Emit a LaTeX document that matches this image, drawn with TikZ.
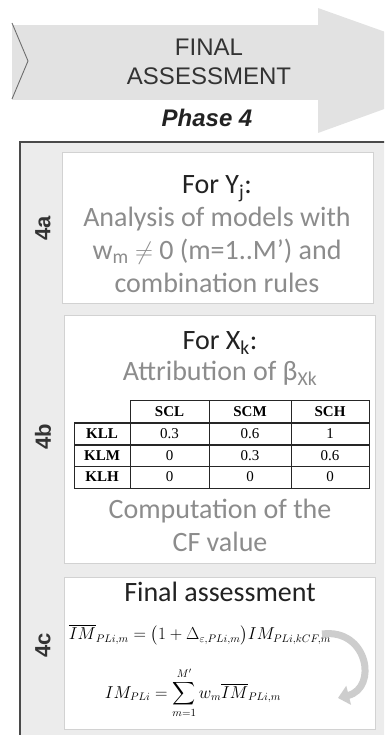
\documentclass[tikz,border=0pt]{standalone}
\usepackage{amsmath,amssymb}
\usepackage{fontspec}
\setmainfont{Carlito}
\newfontfamily\headfont{Liberation Sans}
\newfontfamily\tabfont{Liberation Serif}
\usetikzlibrary{arrows.meta}
\usepackage{xcolor}
\definecolor{bandgrey}{HTML}{E2E2E2}
\definecolor{panelgrey}{HTML}{ECECEC}
\definecolor{rimgrey}{HTML}{4A4A4A}
\definecolor{cardrim}{HTML}{D2D2D2}
\definecolor{inkdark}{HTML}{222222}
\definecolor{inkgrey}{HTML}{8C8C8C}
\definecolor{tagdark}{HTML}{333333}
\definecolor{arrowgrey}{HTML}{CDCDCD}

\begin{document}
\begin{tikzpicture}[
    x=1pt,y=-1pt,
    band/.style={fill=bandgrey,draw=none},
    panel/.style={fill=panelgrey,draw=rimgrey,line width=1.3pt},
    card/.style={fill=white,draw=cardrim,line width=0.9pt},
    tag/.style={font=\headfont\bfseries\fontsize{22}{22}\selectfont,
                text=tagdark,rotate=90},
    head/.style={font=\fontsize{28}{33}\selectfont,text=inkdark,align=center},
    note/.style={font=\fontsize{28}{33}\selectfont,text=inkgrey,align=center},
    cell/.style={font=\tabfont\fontsize{15}{15}\selectfont,inner sep=0pt},
    hcell/.style={font=\tabfont\bfseries\fontsize{15}{15}\selectfont,inner sep=0pt},
    tabline/.style={draw=black!85,line width=0.9pt},
    bendarrow/.style={draw=arrowgrey,line width=7pt,
                      -{Triangle[length=11pt,width=19pt]}}
]
  \clip (0,0) rectangle (384,735);
  \useasboundingbox (0,0) rectangle (384,735);

  % Phase banner: grey band, arrow head and the chevron of the previous step.
  \fill[band] (12,25) rectangle (319,100);
  \fill[band] (318,8) -- (492,70) -- (318,133) -- cycle;
  \draw[draw=rimgrey!80,line width=0.9pt] (12,23) -- (28,61) -- (12,99);
  \node[font=\headfont\fontsize{24}{29}\selectfont,text=tagdark,align=center]
    (title) at (209,62) {FINAL\\ASSESSMENT};
  \node[font=\headfont\bfseries\itshape\fontsize{24}{24}\selectfont,text=inkdark]
    (phase) at (207,118) {Phase 4};

  % Outer panel and the three step cards.
  \draw[panel] (20,142) rectangle (400,750);
  \draw[card] (62,152) rectangle (373,303);
  \draw[card] (64,315) rectangle (375,563);
  \draw[card] (64,577) rectangle (375,729);

  \node[tag] (tag4a) at (43,228) {4a};
  \node[tag] (tag4b) at (43,437) {4b};
  \node[tag] (tag4c) at (43,645) {4c};

  % 4a
  \node[head] (foryj) at (217,189) {For Y\textsubscript{j}:};
  \node[note] (analysis) at (217,250)
    {Analysis of models with\\ w\textsubscript{m} $\neq$ 0 (m=1..M’) and\\ combination rules};

  % 4b: attribution table
  \node[head] (forxk) at (220,343) {For X\textsubscript{k}:};
  \node[note] (attrib) at (220,373) {Attribution of β\textsubscript{Xk}};

  \draw[tabline] (130,400) rectangle (369,423);
  \draw[tabline] (74,423) rectangle (369,488);
  \draw[tabline,line width=1.6pt] (74,423) -- (369,423);
  \draw[tabline,line width=1.6pt] (74,445) -- (369,445);
  \draw[tabline] (74,466) -- (369,466);
  \draw[tabline] (130,400) -- (130,488);
  \draw[tabline] (209,400) -- (209,488);
  \draw[tabline] (291,400) -- (291,488);

  \node[hcell] (hscl) at (169.5,411.5) {SCL};
  \node[hcell] (hscm) at (250,411.5) {SCM};
  \node[hcell] (hsch) at (330,411.5) {SCH};
  \node[hcell] (rkll) at (102,434) {KLL};
  \node[hcell] (rklm) at (102,455.5) {KLM};
  \node[hcell] (rklh) at (102,477) {KLH};
  \node[cell] (c11) at (169.5,434) {0.3};
  \node[cell] (c12) at (250,434) {0.6};
  \node[cell] (c13) at (330,434) {1};
  \node[cell] (c21) at (169.5,455.5) {0};
  \node[cell] (c22) at (250,455.5) {0.3};
  \node[cell] (c23) at (330,455.5) {0.6};
  \node[cell] (c31) at (169.5,477) {0};
  \node[cell] (c32) at (250,477) {0};
  \node[cell] (c33) at (330,477) {0};

  \node[note] (cfvalue) at (220,525) {Computation of the\\CF value};

  % 4c: final assessment
  \node[head] (final) at (220,592) {Final assessment};
  \node[font=\fontsize{16}{16}\selectfont,inner sep=0pt] (eqbar) at (200,635)
    {$\overline{IM}_{PLi,m}=\bigl(1+\Delta_{\varepsilon,PLi,m}\bigr)IM_{PLi,kCF,m}$};
  \node[font=\fontsize{16}{16}\selectfont,inner sep=0pt] (eqsum) at (193,693)
    {$\displaystyle IM_{PLi}=\sum_{m=1}^{M'}w_m\overline{IM}_{PLi,m}$};
  \draw[bendarrow] (322,634) .. controls (368,628) and (378,688) .. (338,698);
\end{tikzpicture}
\end{document}
